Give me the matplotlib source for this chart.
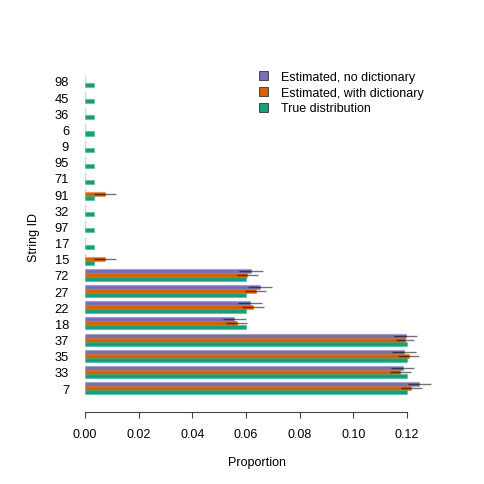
import matplotlib

matplotlib.use("Agg")

import matplotlib.pyplot as plt
import numpy as np
from matplotlib.colors import to_rgba
from matplotlib.patches import Patch

plt.rcParams["font.family"] = ["Liberation Sans", "DejaVu Sans"]

# String IDs, bottom to top
string_ids = ["7", "33", "35", "37", "18", "22", "27", "72", "15", "17",
              "97", "32", "91", "71", "95", "9", "6", "36", "45", "98"]

true_dist = [0.12, 0.12, 0.12, 0.12, 0.06, 0.06, 0.06, 0.06] + [0.0034] * 12

est_no_dict = [0.1246, 0.1185, 0.1189, 0.1196, 0.0557, 0.0615, 0.0652, 0.0619] + [0.0] * 12
err_no_dict = [0.0043, 0.0043, 0.0044, 0.0043, 0.0044, 0.0044, 0.0044, 0.0044] + [0.0] * 12

est_dict = [0.1217, 0.1176, 0.1206, 0.1193, 0.0565, 0.0627, 0.0636, 0.0604,
            0.0075, 0.0, 0.0, 0.0, 0.0075, 0.0, 0.0, 0.0, 0.0, 0.0, 0.0, 0.0]
err_dict = [0.0040, 0.0040, 0.0040, 0.0034, 0.0040, 0.0040, 0.0040, 0.0039,
            0.0040, 0.0, 0.0, 0.0, 0.0040, 0.0, 0.0, 0.0, 0.0, 0.0, 0.0, 0.0]

PURPLE = "#7570B3"
ORANGE = "#D95F02"
GREEN = "#1B9E77"

fig = plt.figure(figsize=(4.85, 4.85), dpi=100)
ax = fig.add_axes([0.1753, 0.177, 0.719, 0.6665])

n = len(string_ids)
centers = 4 * np.arange(n) + 2.5

series = [
    (est_no_dict, err_no_dict, PURPLE, 1.0, "Estimated, no dictionary"),
    (est_dict, err_dict, ORANGE, 0.0, "Estimated, with dictionary"),
    (true_dist, None, GREEN, -1.0, "True distribution"),
]

for vals, errs, color, off, label in series:
    y = centers + off
    ax.barh(y, vals, height=1.0, color=color, edgecolor=to_rgba(color, 0.3),
            linewidth=1.0, zorder=2)
    if errs is not None:
        v = np.asarray(vals)
        e = np.asarray(errs)
        m = e > 0
        ax.hlines(y[m], v[m] - e[m], v[m] + e[m], color="black", alpha=0.55,
                  linewidth=1.0, zorder=3)

ax.set_xlim(0, 0.13)
ax.set_ylim(0, 80)

for side in ("top", "right", "left"):
    ax.spines[side].set_visible(False)
ax.spines["bottom"].set_position(("outward", 10))
ax.spines["bottom"].set_bounds(0, 0.12)
ax.spines["bottom"].set_color("#444444")
ax.spines["bottom"].set_linewidth(0.8)

ax.set_xticks(np.arange(0, 0.121, 0.02))
ax.set_xticklabels([f"{t:.2f}" for t in np.arange(0, 0.121, 0.02)])
ax.tick_params(axis="x", direction="out", length=4.3, width=0.8, color="#444444",
               pad=7, labelsize=9)
ax.set_yticks(centers)
ax.set_yticklabels(string_ids)
ax.tick_params(axis="y", length=0, pad=11.5, labelsize=9.3)

fig.text(257 / 485, 1 - 463 / 485, "Proportion", ha="center", va="center", fontsize=9)
fig.text(34 / 485, 1 - 237 / 485, "String ID", ha="center", va="center",
         rotation=90, fontsize=9)

handles = [Patch(facecolor=c, edgecolor="#333333", linewidth=0.6, label=l)
           for _, _, c, _, l in series]
fig.legend(handles=handles, loc="upper left", bbox_to_anchor=(259 / 485, 1 - 72 / 485),
           frameon=False, fontsize=9, handlelength=0.75, handleheight=0.75,
           handletextpad=1.0, labelspacing=0.3, borderpad=0, borderaxespad=0)

fig.savefig("out.png", dpi=100)
